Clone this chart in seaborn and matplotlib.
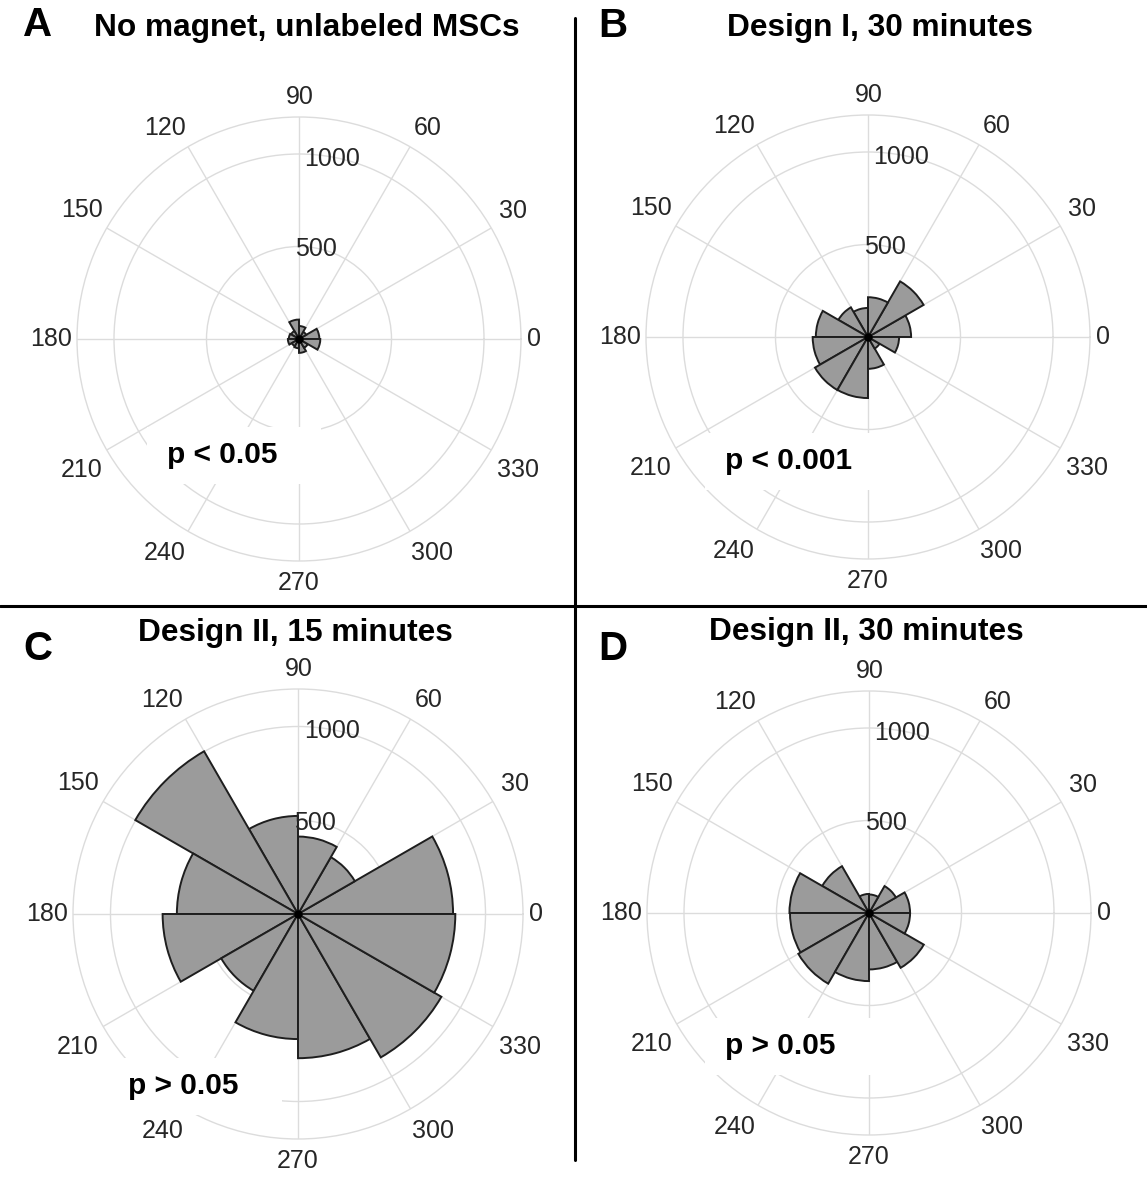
import numpy as np
import matplotlib
matplotlib.use("Agg")
import matplotlib.pyplot as plt
from matplotlib.lines import Line2D
from matplotlib.patches import Rectangle
import pandas as pd
import seaborn as sns

# ---- data -------------------------------------------------------------
bin_starts = [0, 30, 60, 90, 120, 150, 180, 210, 240, 270, 300, 330]
bin_width = 30
theta_ticks = [0, 30, 60, 90, 120, 150, 180, 210, 240, 270, 300, 330]
r_ticks = [500, 1000]
r_max = 1200

counts_A = [110, 45, 70, 105, 50, 55, 60, 45, 50, 75, 55, 115]
counts_B = [233, 347, 215, 157, 185, 282, 299, 331, 330, 172, 72, 168]
counts_C = [827, 350, 413, 523, 1002, 646, 722, 473, 667, 769, 883, 839]
counts_D = [222, 168, 100, 103, 292, 430, 427, 441, 368, 305, 342, 222]

titles = ["No magnet, unlabeled MSCs", "Design I, 30 minutes",
          "Design II, 15 minutes", "Design II, 30 minutes"]
letters = ["A", "B", "C", "D"]
p_labels = ["p < 0.05", "p < 0.001", "p > 0.05", "p > 0.05"]

# ---- style ------------------------------------------------------------
sns.set_theme(style="white")
plt.rcParams["font.family"] = ["Liberation Sans", "DejaVu Sans"]

W, H = 1147, 1178
fig = plt.figure(figsize=(W / 100, H / 100), dpi=100)
fig.patch.set_facecolor("white")

bar_face = "#9b9b9b"
bar_edge = "#1e1e1e"
grid_col = "#dcdcdc"
txt_col = "#262626"

# panel geometry in pixels: centre x, centre y, outer radius
geo = [(299, 339, 222), (868, 337, 222), (298, 914, 225), (869, 913, 222)]
title_pos = [(307, 28), (880, 28), (295, 633), (866, 632)]
letter_pos = [(38, 25), (613, 26), (38, 649), (613, 649)]
p_pos = [(167, 455), (725, 461), (128, 1086), (725, 1046)]
# angle-label centre offsets from the pole, in pixels (x right, y up)
label_off = [(235, 0), (214, 128), (129, 211), (1, 242), (-134, 211), (-217, 129),
             (-248, 0), (-217, -131), (-134, -214), (0, -244), (133, -214), (219, -131)]

all_counts = [counts_A, counts_B, counts_C, counts_D]
bw_rad = float(np.deg2rad(bin_width))

for i, counts in enumerate(all_counts):
    cx, cy, R = geo[i]
    rect = [(cx - R) / W, (H - cy - R) / H, 2 * R / W, 2 * R / H]
    ax = fig.add_axes(rect, projection="polar")
    df = pd.DataFrame({
        "theta": np.deg2rad(np.array(bin_starts, dtype=float) + bin_width / 2),
        "count": np.array(counts, dtype=float),
    })
    sns.histplot(data=df, x="theta", weights="count", binwidth=bw_rad,
                 binrange=(0.0, 2 * np.pi), ax=ax,
                 color=bar_face, edgecolor=bar_edge, linewidth=1.4, alpha=1.0)
    ax.set_axisbelow(True)
    ax.set_theta_zero_location("E")
    ax.set_theta_direction(1)
    ax.set_xlim(0, 2 * np.pi)
    ax.set_ylim(0, r_max)
    ax.set_yticks(r_ticks)
    ax.set_yticklabels([])
    ax.set_xticks(np.deg2rad(theta_ticks))
    ax.set_xticklabels([])
    ax.set_xlabel("")
    ax.set_ylabel("")
    ax.grid(True, color=grid_col, linewidth=1.0)
    ax.spines["polar"].set_color(grid_col)
    ax.spines["polar"].set_linewidth(1.0)
    ax.set_facecolor("white")
    # angle labels
    scale = R / 222.0
    for t, (ox, oy) in zip(theta_ticks, label_off):
        ang = np.arctan2(oy, ox)
        r_px = np.hypot(ox, oy) * scale
        ax.text(ang, r_px / R * r_max, str(t), ha="center", va="center",
                fontsize=18, color=txt_col, clip_on=False)
    for r in r_ticks:
        ax.text(np.deg2rad(79.5), r * 0.99, str(r), ha="center", va="center",
                fontsize=18, color=txt_col, zorder=6)
    ax.plot([0], [0], marker="o", color="black", markersize=5, zorder=7, clip_on=False)

    tx, ty = title_pos[i]
    fig.text(tx / W, 1 - ty / H, titles[i], ha="center", va="center",
             fontsize=22.8, fontweight="bold", color="black")
    lx, ly = letter_pos[i]
    fig.text(lx / W, 1 - ly / H, letters[i], ha="center", va="center",
             fontsize=29, fontweight="bold", color="black")
    px, py = p_pos[i]
    fig.add_artist(Rectangle(((px - 20) / W, 1 - (py + 29) / H), 174 / W, 57 / H,
                             transform=fig.transFigure, facecolor="white",
                             edgecolor="none", zorder=5))
    fig.text(px / W, 1 - py / H, p_labels[i], ha="left", va="center",
             fontsize=21.5, fontweight="bold", color="black", zorder=10)

# separators
fig.add_artist(Line2D([575 / W, 575 / W], [1 - 18 / H, 1 - 1160 / H],
                      transform=fig.transFigure, color="black", linewidth=2.2))
fig.add_artist(Line2D([0, 1], [1 - 606 / H, 1 - 606 / H],
                      transform=fig.transFigure, color="black", linewidth=2.2))

fig.savefig("out.png", dpi=100, facecolor="white")
